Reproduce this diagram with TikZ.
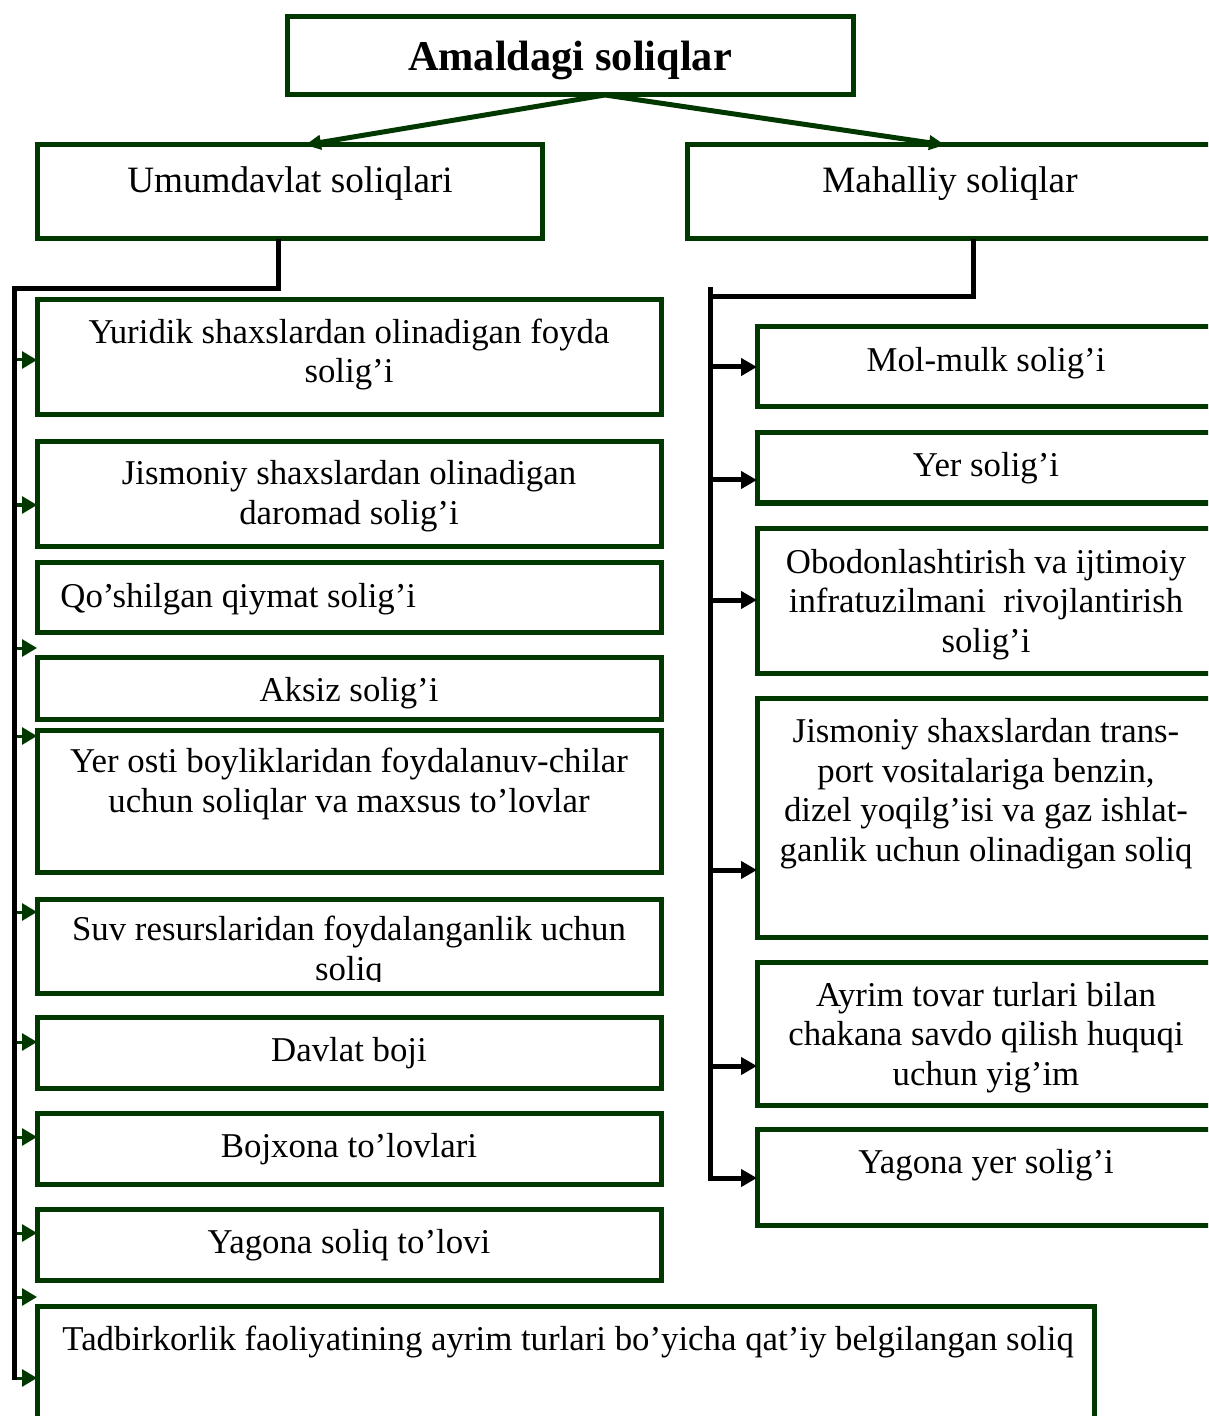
\documentclass[tikz,border=0pt]{standalone}
\usepackage{fontspec}
\setmainfont{Liberation Serif}
\usetikzlibrary{arrows.meta}
\definecolor{boxgreen}{RGB}{0,56,0}
% framed box given by the centre lines of its border: name, x1, y1, x2, y2
\newcommand\gb[5]{\node[gbox,minimum width={(#4-#2)*0.5pt},minimum height={(#5-#3)*0.5pt}] (#1) at ({(#2+#4)/2},{(#3+#5)/2}) {};}
\begin{document}
\begin{tikzpicture}[x=0.5pt,y=-0.5pt,
  gbox/.style={draw=boxgreen,line width=2.5pt,inner sep=0pt,outer sep=0pt},
  % multi-line labels are placed by the baseline of their last line
  lbl/.style={anchor=base,inner sep=0pt,font=\fontsize{17.4}{19.7}\selectfont,align=center},
  lblw/.style={anchor=base west,inner sep=0pt,font=\fontsize{17.4}{19.7}\selectfont},
  head/.style={anchor=base,inner sep=0pt,font=\fontsize{18.6}{21}\selectfont},
  ttl/.style={anchor=base,inner sep=0pt,font=\fontsize{21.2}{24}\selectfont\bfseries},
  bus/.style={draw=black,line width=2.5pt},
  toparrow/.style={draw=boxgreen,line width=2.5pt,-{Triangle[length=8pt,width=7pt]}},
  larrow/.style={draw=boxgreen,line width=1.5pt,-{Triangle[length=7.5pt,width=8.5pt]}},
  rarrow/.style={draw=black,line width=2.5pt,-{Triangle[length=8pt,width=8.5pt]}}]
\useasboundingbox (0,0) rectangle (1208,1416);
\clip (0,0) rectangle (1208,1416);

% ---- heading boxes
\gb{T}{287}{17}{853}{95}
\node[ttl] (Tt) at (570,71) {Amaldagi soliqlar};
\gb{U}{37}{145}{542}{239}
\node[head] (Ut) at (290,193) {Umumdavlat soliqlari};
\gb{M}{687}{145}{1230}{239}
\node[head] (Mt) at (950,193) {Mahalliy soliqlar};

\coordinate (split) at (605,95);
\draw[toparrow] (split) -- (U.north -| 305,0);
\draw[toparrow] (split) -- (M.north -| 945,0);

% ---- state taxes (left column)
\gb{L1}{37}{300}{661}{415}
\node[lbl] (L1t) at (349,383) {Yuridik shaxslardan olinadigan foyda\\solig’i};
\gb{L2}{37}{442}{661}{546}
\node[lbl] (L2t) at (349,524) {Jismoniy shaxslardan olinadigan\\daromad solig’i};
\gb{L3}{37}{562}{661}{632}
\node[lblw] (L3t) at (60,607) {Qo’shilgan qiymat solig’i};
\gb{L4}{37}{657}{661}{719}
\node[lbl] (L4t) at (349,701) {Aksiz solig’i};
\gb{L5}{37}{730}{661}{872}
\node[lbl] (L5t) at (349,812) {Yer osti boyliklaridan foydalanuv-chilar\\uchun soliqlar va maxsus to’lovlar};
\gb{L6}{37}{899}{661}{993}
\begin{scope}
  \clip (40,902) rectangle (658,981);
  \node[lbl] (L6t) at (349,980) {Suv resurslaridan foydalanganlik uchun\\soliq};
\end{scope}
\gb{L7}{37}{1017}{661}{1088}
\node[lbl] (L7t) at (349,1061) {Davlat boji};
\gb{L8}{37}{1113}{661}{1184}
\node[lbl] (L8t) at (349,1157) {Bojxona to’lovlari};
\gb{L9}{37}{1209}{661}{1280}
\node[lbl] (L9t) at (349,1253) {Yagona soliq to’lovi};
\gb{L10}{37}{1306}{1094}{1432}
\node[lblw] (L10t) at (62,1350) {Tadbirkorlik faoliyatining ayrim turlari bo’yicha qat’iy belgilangan soliq};

% left distribution line
\coordinate (lb0) at (278,289);
\coordinate (lb1) at (14,289);
\coordinate (lbend) at (14,1380);
\draw[bus] (U.south -| lb0) -- (lb0) -- (lb1) -- (lbend);
\foreach \yy in {360,505,648,736,912,1042,1137,1233,1297,1378}{
  \coordinate (lt) at (37,\yy);
  \draw[larrow] ([xshift=1.25pt]lb1 |- lt) -- (lt);
}

% ---- local taxes (right column)
\gb{R1}{757}{327}{1230}{407}
\node[lbl] (R1t) at (986,372) {Mol-mulk solig’i};
\gb{R2}{757}{433}{1230}{503}
\node[lbl] (R2t) at (986,477) {Yer solig’i};
\gb{R3}{757}{528}{1230}{673}
\node[lbl] (R3t) at (986,652) {Obodonlashtirish va ijtimoiy\\infratuzilmani\ \ rivojlantirish\\solig’i};
\gb{R4}{757}{698}{1230}{937}
\node[lbl] (R4t) at (986,861) {Jismoniy shaxslardan trans-\\port vositalariga benzin,\\dizel yoqilg’isi va gaz ishlat-\\ganlik uchun olinadigan soliq};
\gb{R5}{757}{962}{1230}{1105}
\node[lbl] (R5t) at (986,1085) {Ayrim tovar turlari bilan\\chakana savdo qilish huquqi\\uchun yig’im};
\gb{R6}{757}{1129}{1230}{1225}
\node[lbl] (R6t) at (986,1173) {Yagona yer solig’i};

% right distribution line
\coordinate (rb0) at (973,297);
\coordinate (rb1) at (710,297);
\coordinate (rtop) at (710,287);
\coordinate (rbend) at (710,1178);
\draw[bus] (M.south -| rb0) -- (rb0) -- (rb1);
\foreach \yy/\bx in {367/R1,480/R2,600/R3,870/R4,1066/R5}{
  \draw[rarrow] (rtop |- \bx.west |- 0,\yy) -- (\bx.west |- 0,\yy);
}
\draw[rarrow] (rtop) -- (rbend) -- (R6.west |- rbend);
\end{tikzpicture}
\end{document}
